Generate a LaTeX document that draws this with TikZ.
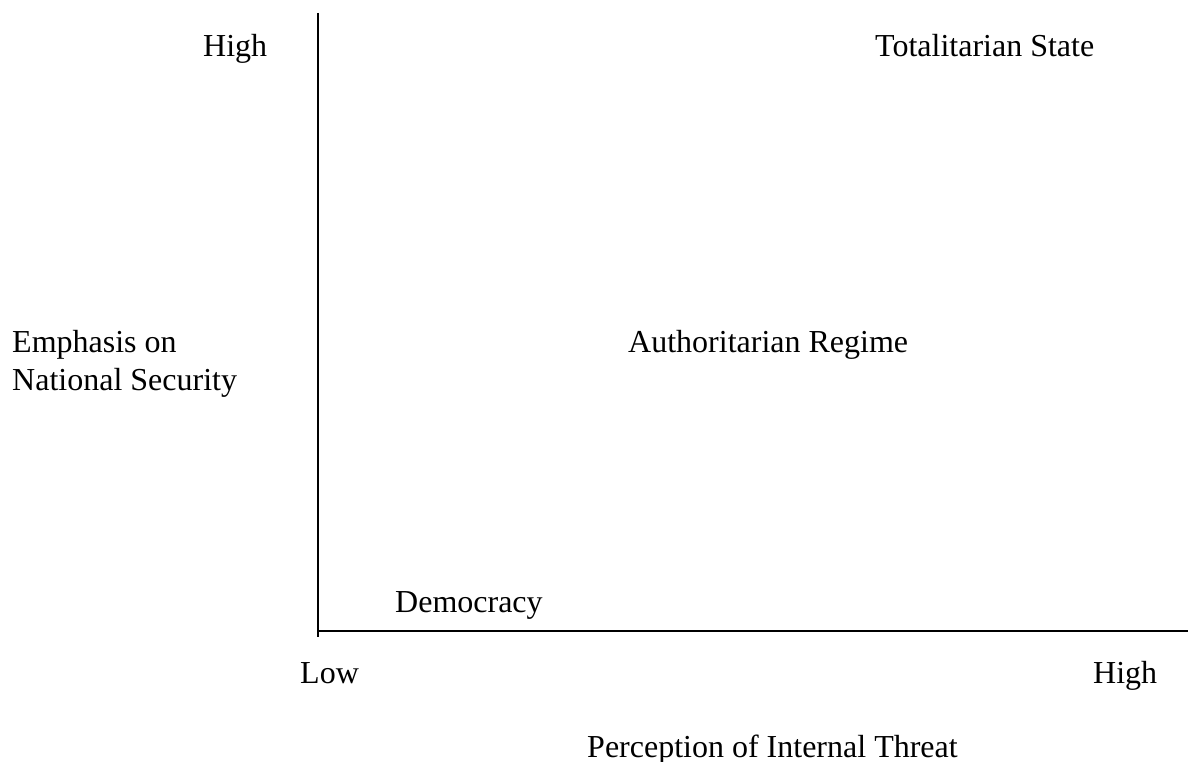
\documentclass[tikz,border=0pt]{standalone}
\usepackage{fontspec}
\setmainfont{Liberation Serif}
\usepackage{tikz}
\usetikzlibrary{positioning}

\begin{document}
\begin{tikzpicture}[x=1pt,y=-1pt,font=\fontsize{32}{38}\selectfont]
  \tikzstyle{lbl}=[inner sep=0pt,anchor=base west]
  \tikzstyle{axis}=[draw,line width=1.6pt]
  \useasboundingbox (0,0) rectangle (1190,762);
  % axes
  \coordinate (ytop) at (318,13);
  \coordinate (ybot) at (318,637);
  \coordinate (xleft) at (318,631);
  \coordinate (xright) at (1188,631);
  \draw[axis] (ytop)--(ybot);
  \draw[axis] (xleft)--(xright);
  % axis labels
  \node[lbl] (yhigh) at (203,57) {High};
  \node[lbl,anchor=north west,align=left] (ylabel) at (12,330) {Emphasis on\\National Security};
  \node[lbl] (xlow) at (300,683) {Low};
  \node[lbl] (xhigh) at (1093,683) {High};
  \node[lbl] (xlabel) at (587,757) {Perception of Internal Threat};
  % regimes
  \node[lbl] (total) at (875,57) {Totalitarian State};
  \node[lbl] (auth) at (628,352) {Authoritarian Regime};
  \node[lbl] (demo) at (395,612) {Democracy};
\end{tikzpicture}
\end{document}
